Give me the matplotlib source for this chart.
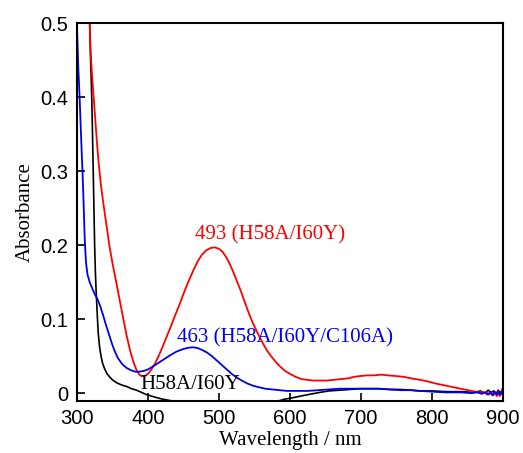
import matplotlib
matplotlib.use("Agg")
import matplotlib.pyplot as plt

# H58A/I60Y (red)
red_wl = [318, 319, 320, 322, 324, 326, 328, 330, 332, 334, 337, 340, 343, 346,
          350, 355, 360, 365, 370, 375, 380, 384, 388, 391, 394, 397, 400, 405,
          410, 415, 420, 425, 431, 437, 445, 452, 458, 464, 470, 476, 482, 488,
          494, 500, 505, 510, 515, 520, 525, 530, 536, 542, 548, 555, 562, 568,
          575, 581, 586, 593, 600, 608, 616, 624, 633, 642, 652, 662, 672, 682,
          690, 698, 708, 718, 728, 738, 750, 760, 770, 783, 793, 805, 815, 825,
          835, 845, 855, 862, 867, 871, 874, 877, 880, 883, 886, 889, 891, 893,
          895, 897, 899, 900]
red_abs = [0.500, 0.470, 0.450, 0.420, 0.395, 0.368, 0.342, 0.318, 0.298, 0.280,
           0.258, 0.238, 0.218, 0.198, 0.176, 0.152, 0.127, 0.102, 0.078, 0.057,
           0.041, 0.031, 0.025, 0.023, 0.023, 0.024, 0.026, 0.032, 0.040, 0.050,
           0.061, 0.073, 0.087, 0.102, 0.121, 0.139, 0.153, 0.166, 0.178, 0.187,
           0.193, 0.196, 0.197, 0.195, 0.191, 0.184, 0.175, 0.164, 0.152, 0.140,
           0.124, 0.108, 0.094, 0.080, 0.067, 0.057, 0.048, 0.041, 0.036, 0.030,
           0.026, 0.022, 0.019, 0.018, 0.017, 0.017, 0.017, 0.018, 0.019, 0.020,
           0.022, 0.023, 0.024, 0.024, 0.025, 0.024, 0.023, 0.022, 0.020, 0.018,
           0.016, 0.013, 0.011, 0.009, 0.007, 0.005, 0.003, 0.002, 0.001, 0.002,
           0.000, 0.001, -0.002, 0.001, -0.003, 0.000, -0.004, 0.002, -0.004,
           0.001, -0.002, 0.006]

# H58A/I60Y/C106A (blue)
blue_wl = [300, 301, 302, 303, 304, 305, 306, 307, 308, 309, 310, 311, 312, 313,
           315, 318, 321, 325, 329, 333, 337, 341, 346, 350, 354, 358, 364, 370,
           376, 382, 388, 394, 400, 407, 415, 423, 431, 440, 448, 455, 463, 470,
           477, 483, 490, 497, 504, 511, 518, 525, 532, 540, 548, 556, 565, 575,
           585, 596, 610, 625, 640, 655, 670, 685, 698, 712, 725, 740, 755, 770,
           783, 800, 820, 840, 855, 864, 870, 874, 878, 882, 885, 888, 891, 894,
           896, 898, 900]
blue_abs = [0.500, 0.470, 0.440, 0.418, 0.396, 0.370, 0.345, 0.320, 0.297, 0.270,
            0.240, 0.210, 0.190, 0.175, 0.160, 0.150, 0.143, 0.134, 0.127, 0.117,
            0.105, 0.092, 0.077, 0.065, 0.055, 0.047, 0.039, 0.034, 0.031, 0.029,
            0.029, 0.030, 0.032, 0.036, 0.041, 0.046, 0.051, 0.056, 0.059, 0.061,
            0.062, 0.061, 0.058, 0.055, 0.050, 0.044, 0.038, 0.032, 0.026, 0.021,
            0.017, 0.013, 0.010, 0.008, 0.006, 0.005, 0.004, 0.003, 0.003, 0.003,
            0.004, 0.005, 0.006, 0.006, 0.006, 0.006, 0.006, 0.005, 0.004, 0.004,
            0.003, 0.002, 0.001, 0.001, 0.000, 0.001, -0.001, 0.001, -0.002, 0.001,
            -0.003, 0.002, -0.002, 0.001, -0.002, 0.003, 0.008]

# H58A/I60Y (black)
black_wl = [318, 319, 320, 321, 322, 323, 324, 325, 326, 327, 328, 329, 330, 332,
            334, 336, 339, 342, 346, 350, 356, 363, 370, 377, 384, 391, 398, 405,
            412, 420, 431, 450, 480, 510, 540, 565, 580, 586, 593, 600, 610, 620,
            631, 642, 655, 670, 685, 698, 712, 725, 740, 755, 770, 783, 800, 820,
            840, 860, 868, 874, 879, 883, 887, 890, 893, 896, 900]
black_abs = [0.500, 0.460, 0.430, 0.396, 0.350, 0.300, 0.250, 0.200, 0.165, 0.140,
             0.120, 0.100, 0.082, 0.062, 0.050, 0.041, 0.033, 0.027, 0.022, 0.018,
             0.014, 0.011, 0.009, 0.006, 0.004, 0.001, -0.002, -0.004, -0.006,
             -0.008, -0.010, -0.014, -0.018, -0.020, -0.019, -0.015, -0.011, -0.010,
             -0.008, -0.007, -0.005, -0.003, -0.001, 0.001, 0.003, 0.004, 0.005,
             0.006, 0.006, 0.006, 0.005, 0.005, 0.004, 0.003, 0.003, 0.002, 0.002,
             0.001, 0.003, 0.000, 0.004, 0.001, 0.003, -0.001, 0.004, 0.000, 0.005]

x_ticks = [300, 400, 500, 600, 700, 800, 900]
y_ticks = [0, 0.1, 0.2, 0.3, 0.4, 0.5]
y_tick_labels = ["0", "0.1", "0.2", "0.3", "0.4", "0.5"]

serif = ["Liberation Serif", "DejaVu Serif"]
sans = ["Liberation Sans", "DejaVu Sans"]

fig = plt.figure(figsize=(5.23, 4.53), dpi=100)
ax = fig.add_axes([0.147, 0.115, 0.815, 0.834])

ax.plot(black_wl, black_abs, color="black", lw=1.2)
ax.plot(red_wl, red_abs, color="#ff0000", lw=1.3)
ax.plot(blue_wl, blue_abs, color="#0000ee", lw=1.3)

ax.set_xlim(300, 900)
ax.set_ylim(-0.0105, 0.5)
ax.set_xticks(x_ticks)
ax.set_yticks(y_ticks)
ax.set_yticklabels(y_tick_labels)
ax.tick_params(direction="in", length=6, width=1.2, labelsize=14.5, pad=6)
for lab in ax.get_xticklabels() + ax.get_yticklabels():
    lab.set_family(sans)
for sp in ax.spines.values():
    sp.set_linewidth(1.5)

ax.set_xlabel("Wavelength / nm", family=serif, fontsize=15, labelpad=2)
ax.set_ylabel("Absorbance", family=serif, fontsize=15, labelpad=4)

ax.text(466, 0.207, "493 (H58A/I60Y)", color="#ff0000", family=serif, fontsize=15)
ax.text(441, 0.069, "463 (H58A/I60Y/C106A)", color="#0000ee", family=serif, fontsize=15)
ax.text(389, 0.0054, "H58A/I60Y", color="black", family=serif, fontsize=15)

fig.savefig("out.png", dpi=100)
